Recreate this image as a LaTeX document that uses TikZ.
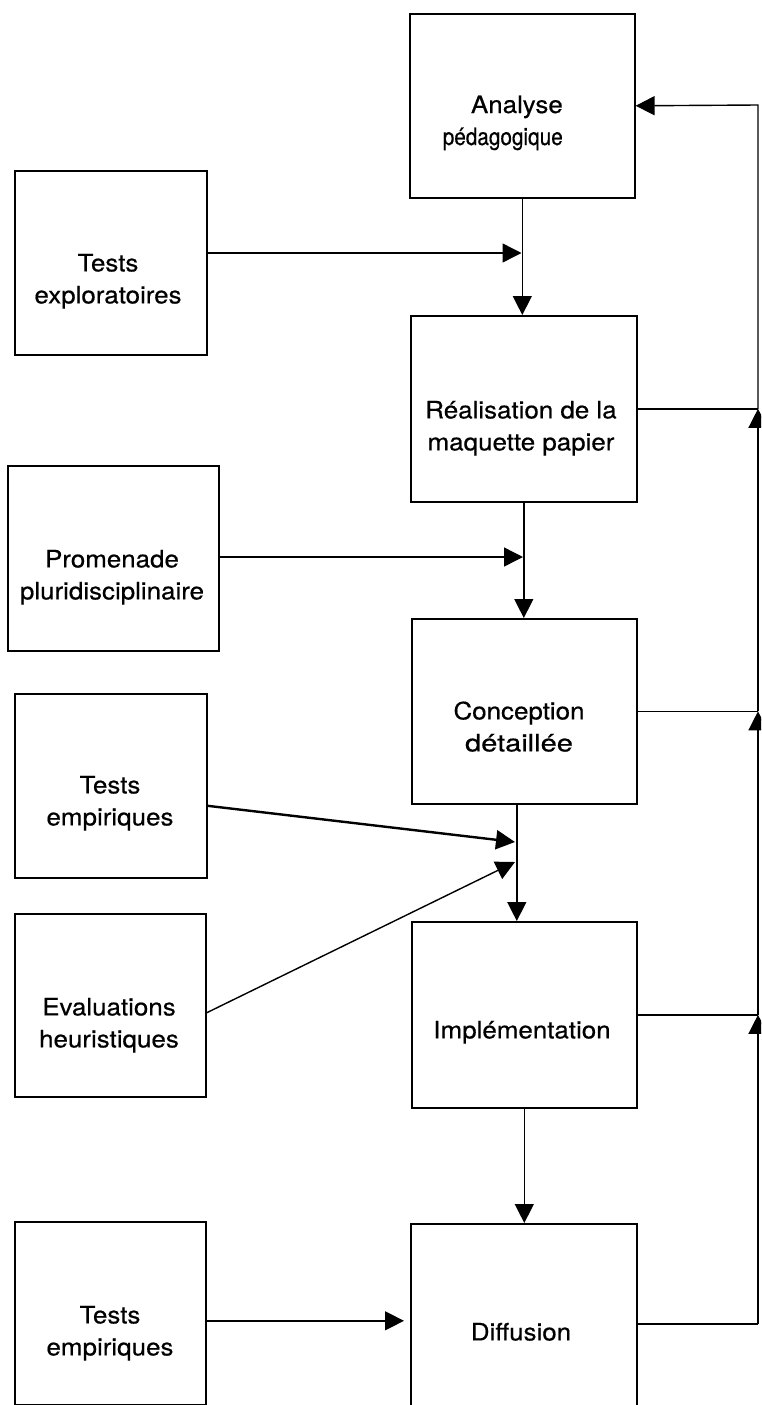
\documentclass[tikz,border=0pt]{standalone}
\usepackage{fontspec}
\setmainfont{TeX Gyre Heros}[FakeStretch=1.08,FakeBold=0.5]
\usetikzlibrary{arrows.meta}

\begin{document}
\begin{tikzpicture}[
  x=1pt, y=-1pt,
  box/.style={draw, line width=1.6pt, inner sep=0pt, anchor=north west},
  lbl/.style={font=\fontsize{24}{32}\selectfont, align=center, inner sep=0pt},
  link/.style={line width=1.4pt},
  arr/.style={link, -{Triangle[length=19pt,width=19pt]}, color=black}
]
% page
\fill[white] (0,0) rectangle (761,1405);
\useasboundingbox (0,0) rectangle (761,1405);
\clip (0,0) rectangle (761,1405);

% main process column
\node[box, minimum width=225pt, minimum height=184pt] (ap) at (409,13) {};
\node[box, minimum width=226pt, minimum height=186pt] (rm) at (410,315) {};
\node[box, minimum width=225pt, minimum height=185pt] (cd) at (411,618) {};
\node[box, minimum width=225pt, minimum height=186pt] (im) at (411,921) {};
\node[box, minimum width=226pt, minimum height=200pt] (di) at (410,1223) {};

% evaluation activities
\node[box, minimum width=192pt, minimum height=184pt] (te)  at (14,170) {};
\node[box, minimum width=211pt, minimum height=185pt] (pp)  at (7,465) {};
\node[box, minimum width=192pt, minimum height=184pt] (tm1) at (14,693) {};
\node[box, minimum width=191pt, minimum height=183pt] (eh)  at (14,913) {};
\node[box, minimum width=191pt, minimum height=183pt] (tm2) at (14,1221) {};

% labels
\node[lbl, align=right, anchor=east] (ap-t) at (563,122.6)
  {\strut Analyse\\\strut\scalebox{0.8}[1]{pédagogique}};
\node[lbl] (rm-t) at (521,428) {\strut Réalisation de la\\\strut maquette papier};
\node[lbl] (cd-t) at (519,729) {\strut Conception\\\strut\scalebox{1.12}[1]{détaillée}};
\node[lbl] (im-t) at (522,1032) {\strut Implémentation};
\node[lbl] (di-t) at (521,1334) {\strut Diffusion};
\node[lbl] (te-t) at (108,281) {\strut Tests\\\strut exploratoires};
\node[lbl] (pp-t) at (112,577) {\strut Promenade\\\strut pluridisciplinaire};
\node[lbl] (tm1-t) at (110,803) {\strut Tests\\\strut empiriques};
\node[lbl] (eh-t) at (109,1025) {\strut Evaluations\\\strut heuristiques};
\node[lbl] (tm2-t) at (110,1333) {\strut Tests\\\strut empiriques};

% junctions on the downward flow
\coordinate (j1) at (521.5,253);
\coordinate (j2) at (523,557);
\coordinate (j3) at (515,842);
\coordinate (j4) at (515,862);

% downward flow
\draw[arr] (ap.south) -- (ap.south |- rm.north);
\draw[arr] (rm.south) -- (rm.south |- cd.north);
\draw[arr] ([xshift=-7.5pt]cd.south) -- ([xshift=-7.5pt]cd.south |- im.north);
\draw[arr] (im.south) -- (im.south |- di.north);

% inputs from the evaluation activities
\draw[arr] (te.east |- j1) -- (j1);
\draw[arr] (pp.east |- j2) -- (j2);
\draw[arr, line width=2.4pt] ([yshift=-20pt]tm1.east) -- (j3);
\draw[arr] ([yshift=-7.5pt]eh.east) -- (j4);
\draw[arr, shorten >=6pt] ([yshift=-7.5pt]tm2.east) -- ([yshift=-7.5pt]tm2.east -| di.west);

% feedback loop on the right
\coordinate (r1) at (758,105);
\coordinate (r2) at (rm.east -| r1);
\coordinate (r3) at (cd.east -| r1);
\coordinate (r4) at (im.east -| r1);
\coordinate (r5) at (di.east -| r1);
\draw[link] (di.east) -- (r5);
\draw[arr] (r5) -- (r4);
\draw[link] (im.east) -- (r4);
\draw[arr] (r4) -- (r3);
\draw[link] (cd.east) -- (r3);
\draw[arr] (r3) -- (r2);
\draw[link] (rm.east) -- (r2);
\draw[arr] (r2) -- (r1) -- (ap.east);
\end{tikzpicture}
\end{document}
